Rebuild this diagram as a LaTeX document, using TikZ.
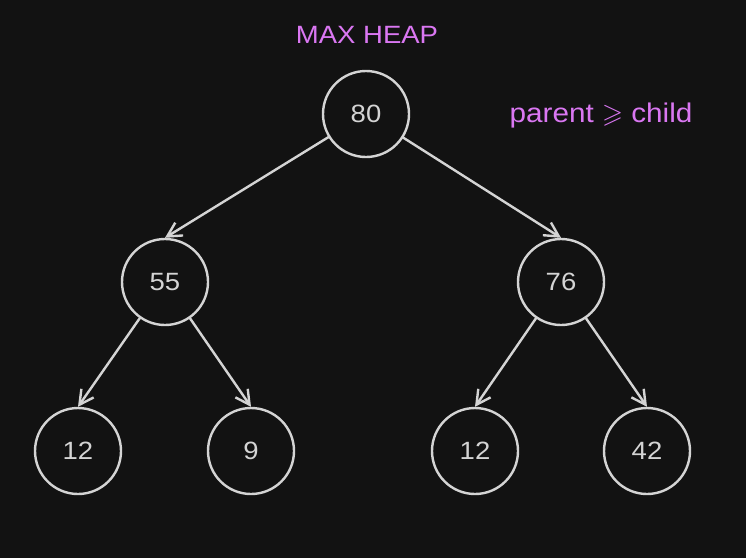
\documentclass[tikz,border=0pt]{standalone}
\usepackage{amsmath,amssymb}
\usepackage{fontspec}
\setmainfont{Liberation Sans}
\newfontfamily\wideface[FakeStretch=1.1]{Liberation Sans}
\usetikzlibrary{arrows.meta}
\definecolor{bgdark}{HTML}{121212}
\definecolor{strokegray}{HTML}{D4D4D4}
\definecolor{violettext}{HTML}{DA77F2}

\begin{document}
\begin{tikzpicture}[line cap=round,line join=round,x=1pt,y=-1pt,
  heapnode/.style={circle,draw=strokegray,line width=2.4pt,minimum size=86pt,inner sep=0pt,text=strokegray,font=\wideface\fontsize{25}{28}\selectfont},
  heapedge/.style={draw=strokegray,line width=2.4pt,-{Straight Barb[angle=56:16pt,line width=2.4pt]}},
  note/.style={text=violettext,font=\wideface\fontsize{25}{28}\selectfont}]
\fill [bgdark] (0,0) rectangle (746,558);
\useasboundingbox (0,0) rectangle (746,558);
% title and rule
\node [note] (title) at (367,35) {MAX HEAP};
\node [note,font=\wideface\fontsize{27}{30}\selectfont] (rule) at (601,116) {parent $\geqslant$ child};
% the heap
\node [heapnode] (root) at (366,114) {80};
\node [heapnode] (lft) at (165,282) {55};
\node [heapnode] (rgt) at (561,282) {76};
\node [heapnode] (lftA) at (78,451) {12};
\node [heapnode] (lftB) at (251,451) {9};
\node [heapnode] (rgtA) at (475,451) {12};
\node [heapnode] (rgtB) at (647,451) {42};
% edges
\draw [heapedge] (root) -- (lft.north);
\draw [heapedge] (root) -- (rgt.north);
\draw [heapedge] (lft) -- (lftA.north);
\draw [heapedge] (lft) -- (lftB.north);
\draw [heapedge] (rgt) -- (rgtA.north);
\draw [heapedge] (rgt) -- (rgtB.north);
\end{tikzpicture}
\end{document}
